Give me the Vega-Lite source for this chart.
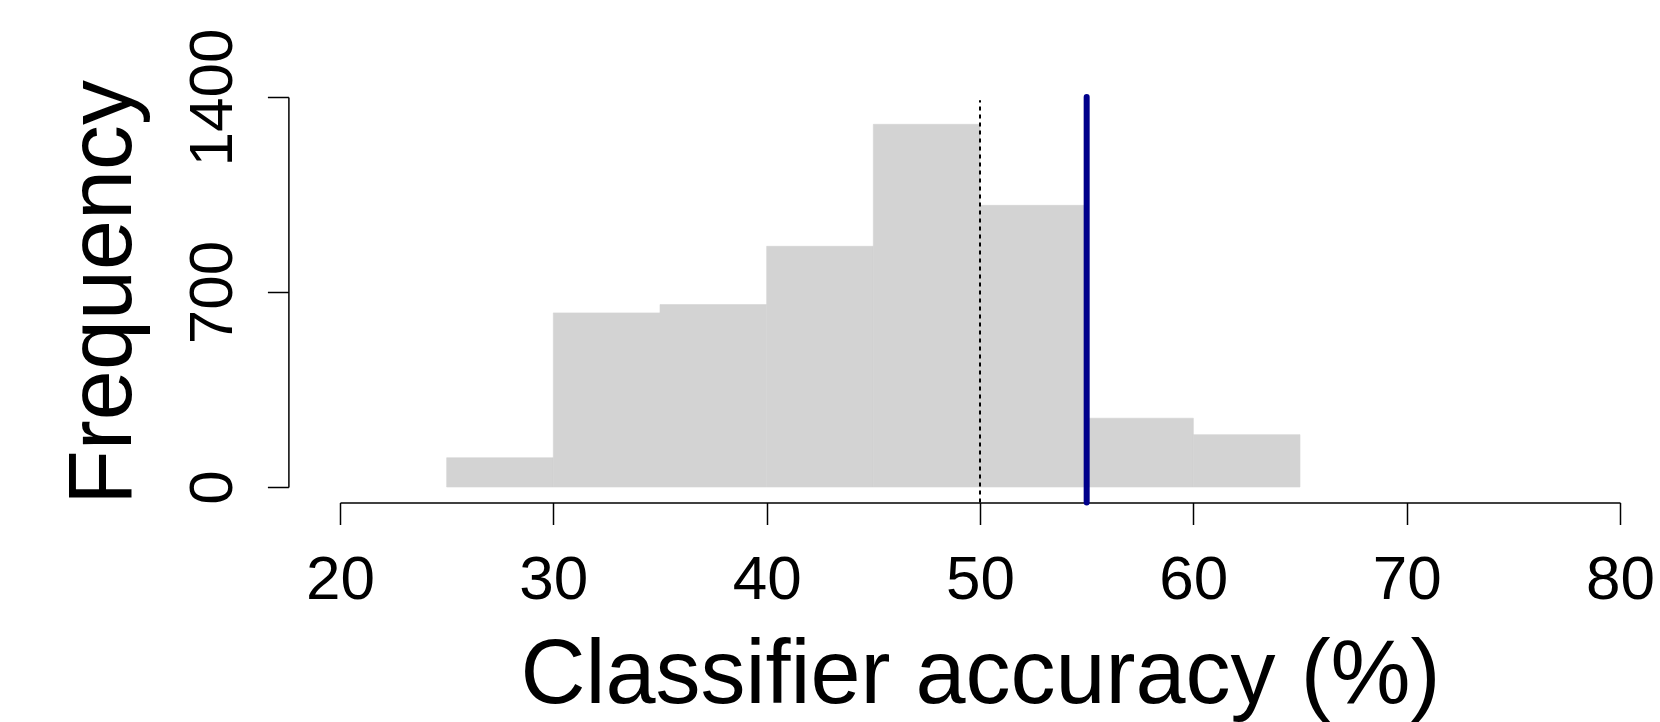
{
  "$schema": "https://vega.github.io/schema/vega-lite/v6.json",
  "autosize": {"type": "none"},
  "width": 1280,
  "height": 390,
  "padding": {"left": 340, "top": 97, "right": 40, "bottom": 235},
  "background": "white",
  "config": {"view": {"stroke": null}, "font": "Liberation Sans"},
  "layer": [
    {
      "data": {"values": [
        {"start": 25, "end": 30, "count": 105},
        {"start": 30, "end": 35, "count": 625},
        {"start": 35, "end": 40, "count": 655},
        {"start": 40, "end": 45, "count": 864},
        {"start": 45, "end": 50, "count": 1302},
        {"start": 50, "end": 55, "count": 1011},
        {"start": 55, "end": 60, "count": 247},
        {"start": 60, "end": 65, "count": 188}
      ]},
      "mark": {"type": "rect", "fill": "#D3D3D3", "stroke": "#D3D3D3", "strokeWidth": 0.6},
      "encoding": {
        "x": {"field": "start", "type": "quantitative", "scale": {"domain": [20, 80], "nice": false},
          "axis": {"values": [20, 30, 40, 50, 60, 70, 80], "format": "d", "title": "Classifier accuracy (%)", "offset": 15.5,
            "tickSize": 22, "tickWidth": 1.5, "tickColor": "black", "domainColor": "black", "domainWidth": 1.5,
            "grid": false, "labelFontSize": 62, "labelColor": "black", "labelFont": "Liberation Sans",
            "labelPadding": 25, "labelFlush": false, "labelOverlap": false,
            "titleFontSize": 90, "titleFontWeight": "normal", "titleColor": "black", "titleFont": "Liberation Sans",
            "titleBaseline": "alphabetic", "titleY": 199.5}},
        "x2": {"field": "end"},
        "y": {"field": "count", "type": "quantitative", "scale": {"domain": [0, 1400], "nice": false},
          "axis": {"values": [0, 700, 1400], "format": "d", "title": "Frequency", "offset": 51.6,
            "tickSize": 21, "tickWidth": 1.5, "tickColor": "black", "domainColor": "black", "domainWidth": 1.5,
            "grid": false, "labelFontSize": 62, "labelColor": "black", "labelFont": "Liberation Sans",
            "labelAngle": 270, "labelAlign": "center", "labelBaseline": "alphabetic", "labelPadding": 36,
            "labelFlush": false, "labelOverlap": false,
            "titleFontSize": 90, "titleFontWeight": "normal", "titleColor": "black", "titleFont": "Liberation Sans",
            "titleAngle": 270, "titleAlign": "center", "titleBaseline": "alphabetic", "titleX": -157.6}},
        "y2": {"datum": 0}
      }
    },
    {
      "data": {"values": [{"x": 50, "ylo": -56, "yhi": 1388}]},
      "mark": {"type": "rule", "color": "black", "strokeWidth": 2, "strokeDash": [4, 4]},
      "encoding": {
        "x": {"field": "x", "type": "quantitative"},
        "y": {"field": "ylo", "type": "quantitative"},
        "y2": {"field": "yhi"}
      }
    },
    {
      "data": {"values": [{"x": 55, "ylo": -56, "yhi": 1400}]},
      "mark": {"type": "rule", "color": "#00008B", "strokeWidth": 6, "strokeCap": "round"},
      "encoding": {
        "x": {"field": "x", "type": "quantitative"},
        "y": {"field": "ylo", "type": "quantitative"},
        "y2": {"field": "yhi"}
      }
    }
  ]
}
